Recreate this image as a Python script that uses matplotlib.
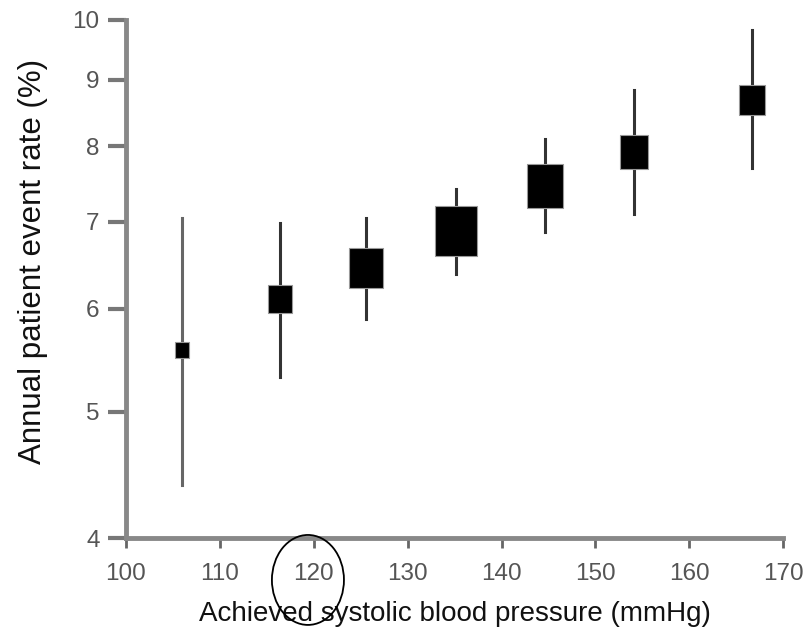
import matplotlib
matplotlib.use("Agg")
import matplotlib.pyplot as plt
from matplotlib.patches import Ellipse
from matplotlib.ticker import FixedLocator, NullLocator

# data
sbp = [106.0, 116.4, 125.6, 135.1, 144.6, 154.1, 166.7]
rate = [5.58, 6.10, 6.45, 6.88, 7.46, 7.92, 8.68]
ci_low = [4.39, 5.32, 5.89, 6.38, 6.87, 7.10, 7.70]
ci_high = [7.04, 6.98, 7.04, 7.42, 8.10, 8.84, 9.83]
box_size = [12.2, 20.2, 29.5, 35.3, 31.0, 23.8, 22.3]  # marker size ~ weight

x_ticks = [100, 110, 120, 130, 140, 150, 160, 170]
y_ticks = [4, 5, 6, 7, 8, 9, 10]

plt.rcParams['font.family'] = ['Liberation Sans', 'DejaVu Sans']

fig = plt.figure(figsize=(8.04, 6.38), dpi=100)
ax = fig.add_axes([0.1567, 0.1567, 0.8175, 0.812])

# rectangles slightly taller than wide, as in the picture
rect = [(-0.85, -1), (0.85, -1), (0.85, 1), (-0.85, 1), (-0.85, -1)]

for i in range(len(sbp)):
    ax.plot([sbp[i], sbp[i]], [ci_low[i], ci_high[i]],
            color='#666666' if i == 0 else '#333333', lw=2.2, zorder=2)
    ax.plot(sbp[i], rate[i], marker=rect, ms=box_size[i], color='black',
            mec='#999999', mew=0.8, zorder=3)

ax.set_yscale('log')
ax.set_xlim(100, 170)
ax.set_ylim(4, 10)
ax.yaxis.set_major_locator(FixedLocator(y_ticks))
ax.yaxis.set_minor_locator(NullLocator())
ax.set_yticklabels([str(v) for v in y_ticks])
ax.set_xticks(x_ticks)

for s in ['top', 'right']:
    ax.spines[s].set_visible(False)
for s in ['left', 'bottom']:
    ax.spines[s].set_color('#888888')
    ax.spines[s].set_linewidth(3.5)

ax.tick_params(axis='y', length=13, width=3, color='#777777',
               labelsize=17.5, labelcolor='#555555', pad=6)
ax.tick_params(axis='x', length=7, width=2, color='#666666',
               labelsize=17.5, labelcolor='#555555', pad=11)

ax.set_xlabel('Achieved systolic blood pressure (mmHg)', fontsize=20, color='#111111')
ax.set_ylabel('Annual patient event rate (%)', fontsize=22.5, color='#111111')
ax.xaxis.set_label_coords(0.5, -0.122)
ax.yaxis.set_label_coords(-0.118, 0.533)

# hand-drawn circle around the 120 label
fig.patches.append(Ellipse((0.383, 0.091), 0.0896, 0.141, fill=False,
                           ec='black', lw=1.3, transform=fig.transFigure))

fig.savefig('out.png', dpi=100, facecolor='white')
